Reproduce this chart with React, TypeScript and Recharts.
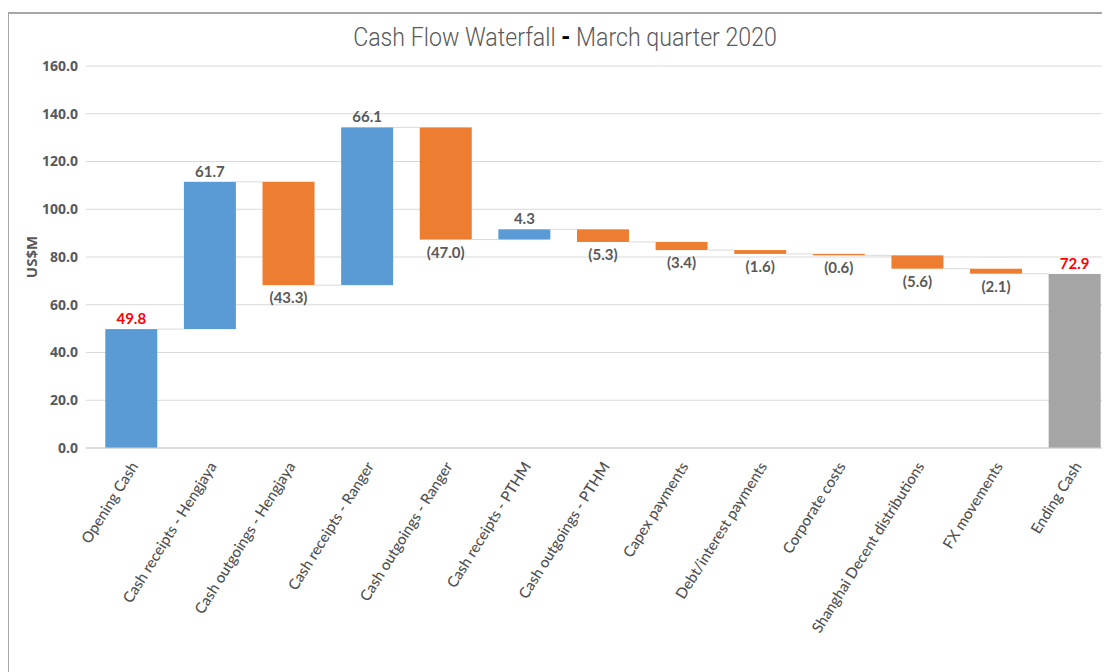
import { BarChart, Bar, XAxis, YAxis, CartesianGrid, LabelList } from 'recharts'

const categories = [
  'Opening Cash',
  'Cash receipts - Hengjaya',
  'Cash outgoings - Hengjaya',
  'Cash receipts - Ranger',
  'Cash outgoings - Ranger',
  'Cash receipts - PTHM',
  'Cash outgoings - PTHM',
  'Capex payments',
  'Debt/interest payments',
  'Corporate costs',
  'Shanghai Decent distributions',
  'FX movements',
  'Ending Cash'
]

// opening / ending are totals, the rest are movements
const changes = [49.8, 61.7, -43.3, 66.1, -47.0, 4.3, -5.3, -3.4, -1.6, -0.6, -5.6, -2.1, 72.9]
const kinds = ['open', 'up', 'down', 'up', 'down', 'up', 'down', 'down', 'down', 'down', 'down', 'down', 'close']
const yTicks = [0, 20, 40, 60, 80, 100, 120, 140, 160]

const COLORS: Record<string, string> = {
  open: '#5b9bd5',
  up: '#5b9bd5',
  down: '#ed7d31',
  close: '#a5a5a5'
}

const GAP = 0.169
const TEXT = '#595959'

// running totals -> invisible base + visible piece
let running = 0
const data = categories.map((name, i) => {
  const kind = kinds[i]
  const ch = changes[i]
  let base = 0
  if (kind === 'open' || kind === 'close') {
    running = ch
  } else if (kind === 'up') {
    base = running
    running += ch
  } else {
    running += ch
    base = running
  }
  return { name, kind, base, value: Math.abs(ch), change: ch }
})

const WaterfallBar = (props: any) => {
  const { x, y, width, height, payload, index } = props
  const gap = (width * GAP * 2) / (1 - 2 * GAP)
  const level = payload.kind === 'down' ? y + height : y
  return (
    <g>
      <rect x={x} y={y} width={width} height={height} fill={COLORS[payload.kind]} />
      {index < data.length - 1 && (
        <line x1={x + width} x2={x + width + gap} y1={level} y2={level} stroke="#d9d9d9" strokeWidth={1} />
      )}
    </g>
  )
}

const ValueLabel = (props: any) => {
  const { x, y, width, height, index } = props
  const d = data[index]
  const cx = x + width / 2
  const font = { fontFamily: 'Lato, "Open Sans", sans-serif', fontWeight: 700, fontSize: 15 }
  if (d.kind === 'down') {
    return (
      <text x={cx} y={y + height + 18} textAnchor="middle" fill={TEXT} style={font}>
        ({Math.abs(d.change).toFixed(1)})
      </text>
    )
  }
  const total = d.kind === 'open' || d.kind === 'close'
  return (
    <text x={cx} y={y - 5} textAnchor="middle" fill={total ? '#ff0000' : TEXT} style={font}>
      {d.change.toFixed(1)}
    </text>
  )
}

const CategoryTick = (props: any) => {
  const { x, y, payload } = props
  const tx = x + 4
  const ty = y + 8
  return (
    <text x={tx} y={ty} dy={4} transform={`rotate(-58 ${tx} ${ty})`} textAnchor="end" fill="#505050"
      style={{ fontFamily: 'Lato, "Open Sans", sans-serif', fontSize: 15, fontWeight: 500 }}>
      {payload.value}
    </text>
  )
}

export default function App() {
  return (
    <div style={{ position: 'relative', width: 1102, height: 664, overflow: 'hidden', background: '#fff' }}>
      <div style={{
        position: 'absolute', left: -1, top: 4, width: 1200, height: 700,
        borderTop: '2px solid #a6a6a6', borderLeft: '2px solid #a6a6a6'
      }} />
      <div style={{ position: 'absolute', left: 0, top: 14, width: 1114, textAlign: 'center' }}>
        <span style={{
          display: 'inline-block', transform: 'scaleX(0.89)',
          fontFamily: 'Roboto, "Liberation Sans", sans-serif', fontWeight: 300,
          fontSize: 26, color: TEXT
        }}>
          Cash Flow Waterfall <span style={{ color: '#000', fontWeight: 700 }}>-</span> March quarter 2020
        </span>
      </div>
      <div style={{ position: 'absolute', left: 0, top: 0 }}>
        <BarChart width={1120} height={664} data={data} barCategoryGap="16.9%"
          margin={{ top: 58, right: 14, bottom: 0, left: 0 }}>
          <CartesianGrid vertical={false} stroke="#d9d9d9" />
          <XAxis dataKey="name" interval={0} height={224} tickLine={false}
            axisLine={{ stroke: '#d0d0d0' }} padding={{ left: 6, right: 0 }}
            tick={<CategoryTick />} />
          <YAxis domain={[0, 160]} ticks={yTicks} width={78} tickLine={false} axisLine={false}
            tickSize={0} tickMargin={8} tickFormatter={(v: number) => v.toFixed(1)}
            tick={{ fill: TEXT, fontFamily: '"Open Sans", sans-serif', fontWeight: 700, fontSize: 14 }}
            label={{ value: 'US$M', angle: -90, position: 'center', dx: -15,
              style: { fill: TEXT, fontFamily: '"Open Sans", sans-serif', fontWeight: 700, fontSize: 15 } }} />
          <Bar dataKey="base" stackId="w" fill="transparent" isAnimationActive={false} />
          <Bar dataKey="value" stackId="w" shape={<WaterfallBar />} isAnimationActive={false}>
            <LabelList dataKey="value" content={<ValueLabel />} />
          </Bar>
        </BarChart>
      </div>
    </div>
  )
}
